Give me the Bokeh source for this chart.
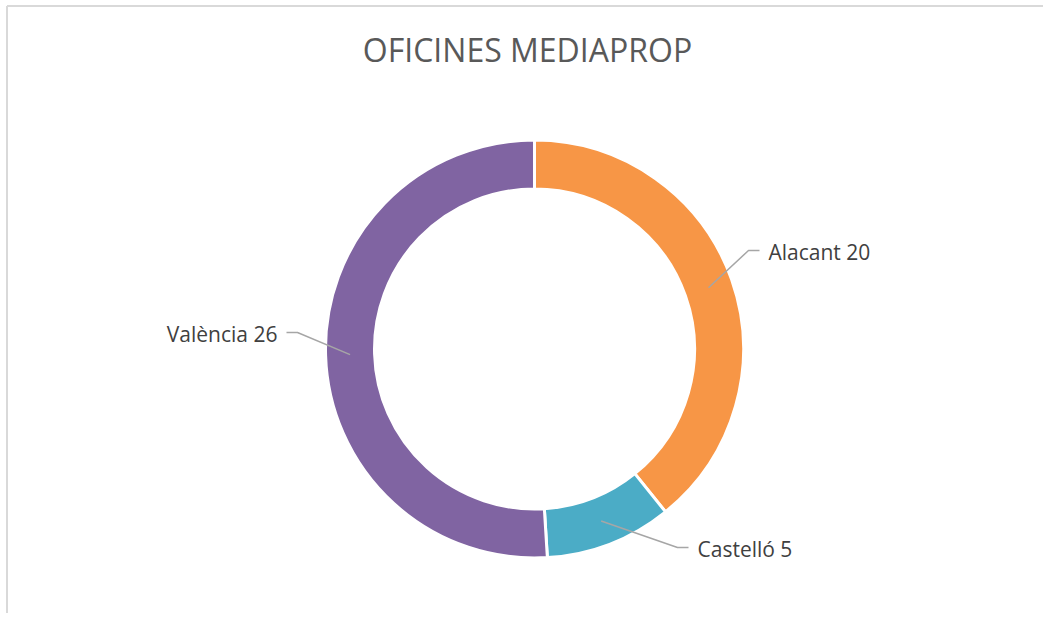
import math
from bokeh.plotting import figure
from bokeh.models import Range1d, ColumnDataSource
from bokeh.core.properties import value
from bokeh.embed import file_html
from bokeh.resources import INLINE

# ---- data ----
categories = ["Alacant", "Castelló", "València"]
counts = [20, 5, 26]
colors = ["#F79646", "#4BACC6", "#8064A2"]
title_text = "OFICINES MEDIAPROP"

W, H = 1043, 613
def sx(x):  # picture x -> data x
    return x
def sy(y):  # picture y -> data y
    return H - y

cx, cy = sx(534), sy(348.5)
r_out, r_in = 209, 160

total = sum(counts)
starts, ends, mids = [], [], []
cum = 0
for c in counts:
    a0 = math.pi / 2 - 2 * math.pi * cum / total
    cum += c
    a1 = math.pi / 2 - 2 * math.pi * cum / total
    starts.append(a0)
    ends.append(a1)
    mids.append((a0 + a1) / 2)

src = ColumnDataSource(dict(start=starts, end=ends, color=colors,
                            cat=categories, cnt=counts))

p = figure(width=W, height=H, output_backend="svg", toolbar_location=None,
           x_range=Range1d(0, W), y_range=Range1d(0, H),
           min_border=0, min_border_left=0, min_border_right=0,
           min_border_top=0, min_border_bottom=0)
p.axis.visible = False
p.grid.visible = False
p.outline_line_color = None
p.background_fill_color = "white"
p.border_fill_color = "white"

# chart area border (top and left visible)
bx, by = sx(6.5), sy(5.5)
p.segment(x0=[bx, bx], y0=[by, by], x1=[W, bx], y1=[by, 0],
          line_color="#D9D9D9", line_width=2)

p.annular_wedge(x=cx, y=cy, inner_radius=r_in, outer_radius=r_out,
                start_angle="start", end_angle="end", direction="clock",
                fill_color="color", line_color="white", line_width=3,
                source=src)

# leader lines and labels
r_mid = (r_in + r_out) / 2
# elbow / label layout (picture coords): elbow point, end point, text x, text y, align
layout = [
    ((748, 250), (759, 250), 768, 251, "left"),
    ((677, 547), (688, 547), 697, 548, "left"),
    ((297, 332), (286, 332), 277, 333, "right"),
]
for i, (elb, endp, tx, ty, al) in enumerate(layout):
    ax = cx + r_mid * math.cos(mids[i])
    ay = cy + r_mid * math.sin(mids[i])
    p.line([ax, sx(elb[0]), sx(endp[0])], [ay, sy(elb[1]), sy(endp[1])],
           line_color="#A6A6A6", line_width=1.5)
    p.text(x=[sx(tx)], y=[sy(ty)], text=[f"{categories[i]} {counts[i]}"],
           text_font=value("Open Sans"), text_font_size="21px",
           text_color="#404040", text_align=al, text_baseline="middle")

p.text(x=[sx(527)], y=[sy(48.5)], text=[title_text],
       text_font=value("Open Sans"), text_font_size="32px",
       text_color="#595959", text_align="center", text_baseline="middle")

open("out.html", "w").write(file_html(p, INLINE))
